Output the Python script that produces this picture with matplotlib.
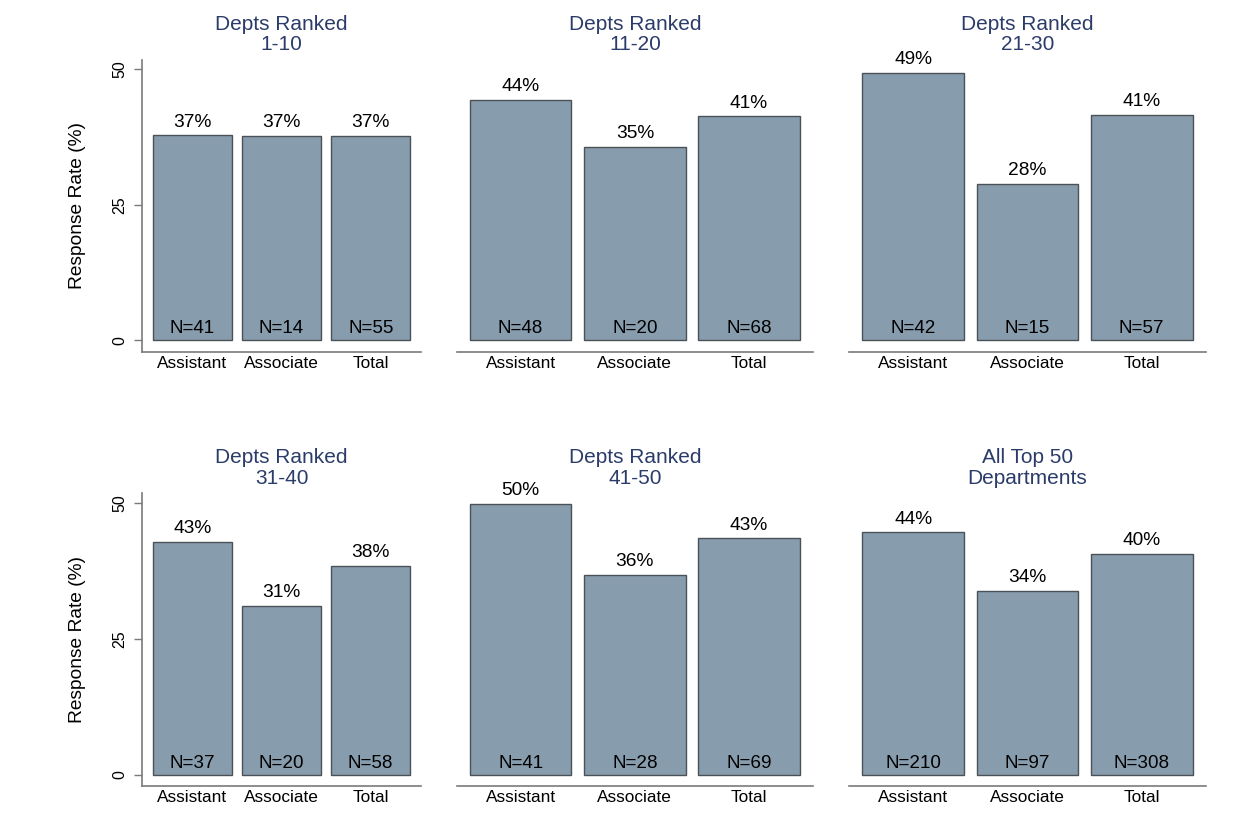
"""Response rates by rank group, Stata-style 2x3 bar panels."""

import matplotlib
matplotlib.use("Agg")
import matplotlib.pyplot as plt

plt.rcParams["font.family"] = ["Liberation Sans", "DejaVu Sans"]

CATEGORIES = ["Assistant", "Associate", "Total"]

PANEL_TITLES = [
    "Depts Ranked\n1-10",
    "Depts Ranked\n11-20",
    "Depts Ranked\n21-30",
    "Depts Ranked\n31-40",
    "Depts Ranked\n41-50",
    "All Top 50\nDepartments",
]

# response rate (%) per panel
RATES_1_10 = [37.8, 37.7, 37.7]
RATES_11_20 = [44.3, 35.6, 41.3]
RATES_21_30 = [49.3, 28.8, 41.5]
RATES_31_40 = [42.8, 31.1, 38.5]
RATES_41_50 = [49.9, 36.7, 43.5]
RATES_ALL = [44.6, 33.9, 40.7]

PCT_LABELS_1_10 = ["37%", "37%", "37%"]
PCT_LABELS_11_20 = ["44%", "35%", "41%"]
PCT_LABELS_21_30 = ["49%", "28%", "41%"]
PCT_LABELS_31_40 = ["43%", "31%", "38%"]
PCT_LABELS_41_50 = ["50%", "36%", "43%"]
PCT_LABELS_ALL = ["44%", "34%", "40%"]

N_1_10 = [41, 14, 55]
N_11_20 = [48, 20, 68]
N_21_30 = [42, 15, 57]
N_31_40 = [37, 20, 58]
N_41_50 = [41, 28, 69]
N_ALL = [210, 97, 308]

RATES = [RATES_1_10, RATES_11_20, RATES_21_30, RATES_31_40, RATES_41_50, RATES_ALL]
PCT_LABELS = [PCT_LABELS_1_10, PCT_LABELS_11_20, PCT_LABELS_21_30,
              PCT_LABELS_31_40, PCT_LABELS_41_50, PCT_LABELS_ALL]
NS = [N_1_10, N_11_20, N_21_30, N_31_40, N_41_50, N_ALL]

BAR_COLOR = "#879cad"
EDGE_COLOR = "#4a5257"
TITLE_COLOR = "#2c3c6a"
AXIS_COLOR = "#7a7a7a"

W, H = 1248, 824
fig = plt.figure(figsize=(W / 100, H / 100), dpi=100)

# axes boxes in pixels (left, right) per column and (top, bottom) per row
col_px = [(142.3, 420.7), (456.7, 813.0), (849.3, 1205.7)]
row_px = [(59.5, 351.7), (493.3, 786.0)]

for idx in range(6):
    r, c = divmod(idx, 3)
    x0, x1 = col_px[c]
    y0, y1 = row_px[r]
    ax = fig.add_axes([x0 / W, 1 - y1 / H, (x1 - x0) / W, (y1 - y0) / H])

    xs = range(len(CATEGORIES))
    bars = ax.bar(xs, RATES[idx], width=0.89, color=BAR_COLOR,
                  edgecolor=EDGE_COLOR, linewidth=1.0)
    for bar, pct, n in zip(bars, PCT_LABELS[idx], NS[idx]):
        cx = bar.get_x() + bar.get_width() / 2
        ax.annotate(pct, (cx, bar.get_height()), xytext=(0, 3.5),
                    textcoords="offset points", ha="center", va="bottom",
                    fontsize=13.8, color="black")
        ax.annotate(f"N={n}", (cx, 0), xytext=(0, 5.0),
                    textcoords="offset points", ha="center", va="baseline",
                    fontsize=13.6, color="black")

    ax.set_xlim(-0.56, 2.56)
    ax.set_ylim(-2.1, 51.8)
    ax.set_xticks(list(xs))
    ax.set_xticklabels(CATEGORIES, fontsize=12.4)
    ax.tick_params(axis="x", length=0, pad=3)
    ax.set_title(PANEL_TITLES[idx], fontsize=15, color=TITLE_COLOR,
                 linespacing=1.08, pad=7)

    for side in ["top", "right"]:
        ax.spines[side].set_visible(False)
    ax.spines["bottom"].set_color(AXIS_COLOR)
    ax.spines["bottom"].set_linewidth(1.2)

    if c == 0:
        ax.spines["left"].set_color(AXIS_COLOR)
        ax.spines["left"].set_linewidth(1.2)
        ax.set_yticks([0, 25, 50])
        ax.set_yticklabels(["0", "25", "50"], rotation=90, va="center",
                           fontsize=11.5)
        ax.tick_params(axis="y", length=6, width=1.0, color=AXIS_COLOR, pad=5)
        ax.set_ylabel("Response Rate (%)", fontsize=13.8, labelpad=19)
    else:
        ax.spines["left"].set_visible(False)
        ax.set_yticks([])

fig.savefig("out.png", dpi=100, facecolor="white")
